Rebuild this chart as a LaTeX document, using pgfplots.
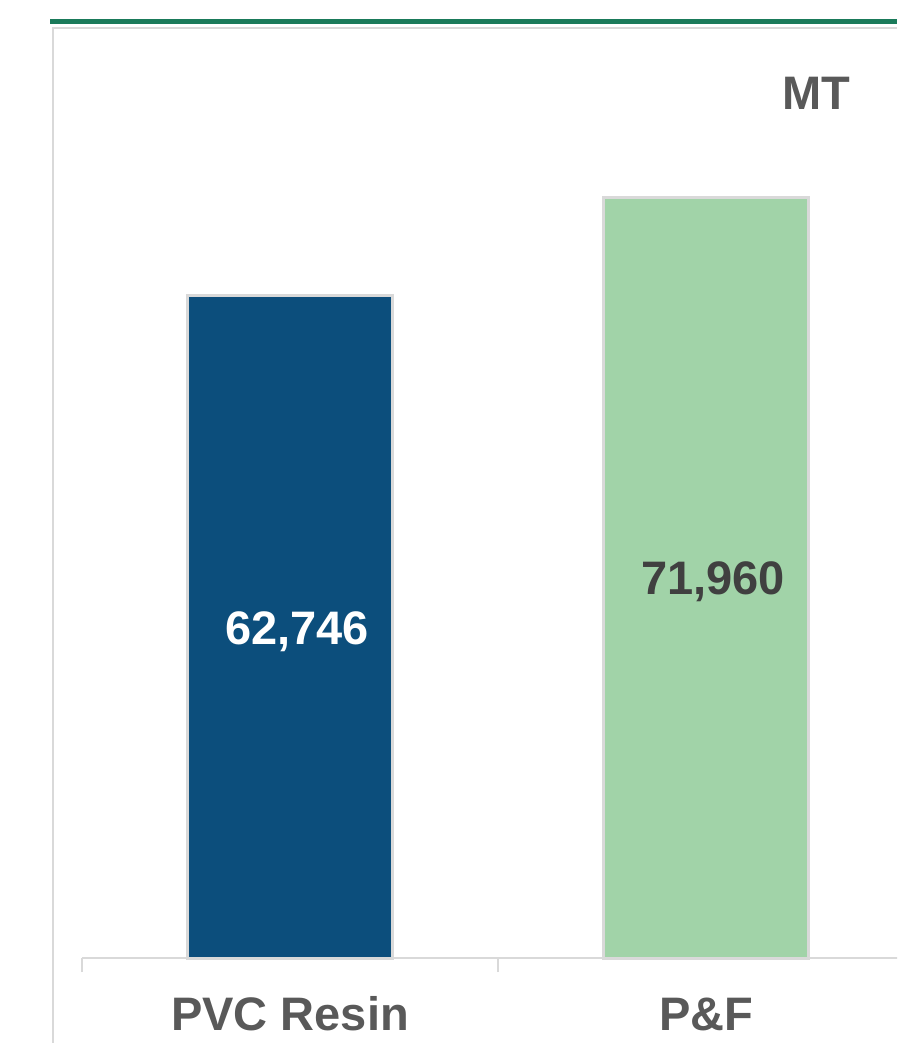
\documentclass[border=0pt]{standalone}
\usepackage{fontspec}
\setmainfont{Liberation Sans}
\usepackage{pgfplots}
\pgfplotsset{compat=1.18}
\definecolor{barblue}{HTML}{0C4E7C}
\definecolor{bargreen}{HTML}{A1D3A8}
\definecolor{framegrey}{HTML}{D9D9D9}
\definecolor{labelgrey}{HTML}{595959}
\definecolor{valgrey}{HTML}{404040}
\definecolor{topgreen}{HTML}{1A7A5A}
\newcommand{\bigbold}{\fontsize{47}{56}\selectfont\bfseries}
\begin{document}
\begin{tikzpicture}[x=1pt,y=1pt]
\useasboundingbox (0,0) rectangle (897,1043);
\clip (0,0) rectangle (897,1043);
% top rule and panel frame
\draw[topgreen, line width=4.5pt] (50,1021.7) -- (897,1021.7);
\draw[framegrey, line width=2pt] (53,0) -- (53,1014.5) -- (897,1014.5);
\begin{axis}[
    at={(82pt,85pt)}, anchor=south west,
    scale only axis, width=832pt, height=845pt,
    xmin=-0.5, xmax=1.5, ymin=0, ymax=80000,
    clip=false,
    axis y line=none,
    axis x line*=bottom,
    x axis line style={framegrey, line width=2pt},
    xtick={0,1},
    xticklabels={PVC Resin, P\&F},
    major tick length=0pt,
    extra x ticks={-0.5,0.5,1.5},
    extra x tick labels={},
    extra x tick style={major tick length=14pt, tick align=outside,
        tick style={framegrey, line width=2pt}},
    xticklabel style={font=\bigbold, text=labelgrey, anchor=base, yshift=-72pt},
]
\addplot[ybar, bar shift=0pt, bar width=205pt, fill=barblue, draw=framegrey, line width=3pt]
    coordinates {(0,62746)};
\addplot[ybar, bar shift=0pt, bar width=205pt, fill=bargreen, draw=framegrey, line width=3pt]
    coordinates {(1,71960)};
\node[font=\bigbold, text=white, anchor=base, xshift=7pt] at (axis cs:0,29633) {62,746};
\node[font=\bigbold, text=valgrey, anchor=base, xshift=7pt] at (axis cs:1,34367) {71,960};
\end{axis}
\node[font=\bigbold, text=labelgrey, anchor=base] at (816,933) {MT};
\end{tikzpicture}
\end{document}
